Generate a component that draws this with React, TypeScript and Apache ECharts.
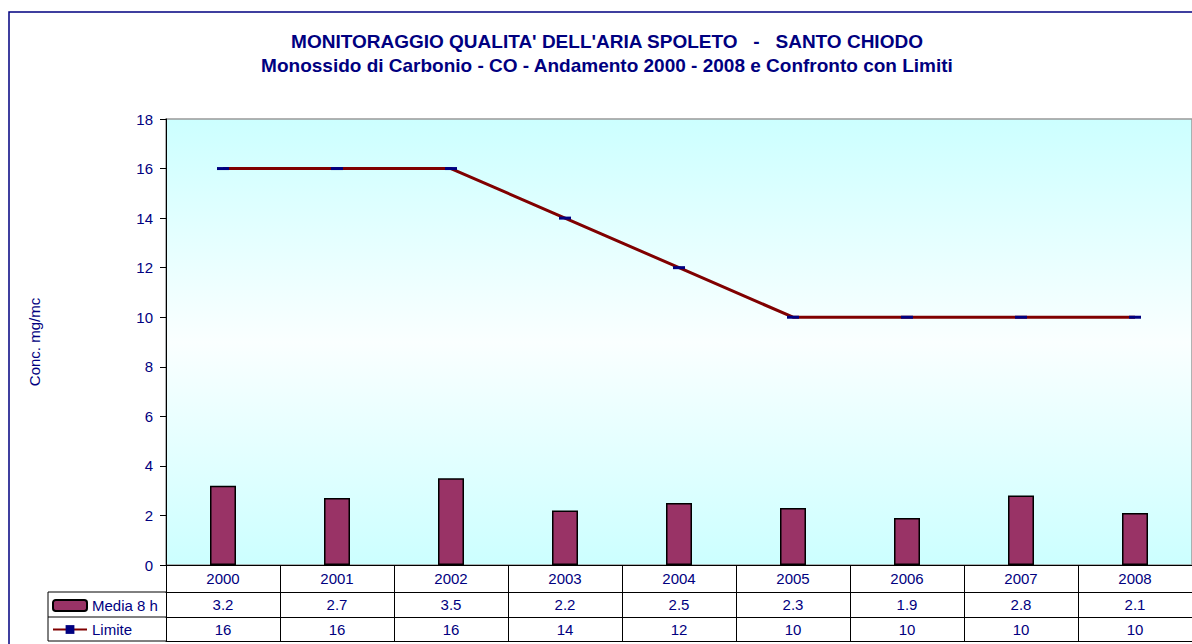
import React, { useEffect, useRef } from "react";
import * as echarts from "echarts";

const years = ["2000", "2001", "2002", "2003", "2004", "2005", "2006", "2007", "2008"];
const media8h = [3.2, 2.7, 3.5, 2.2, 2.5, 2.3, 1.9, 2.8, 2.1];
const limite = [16, 16, 16, 14, 12, 10, 10, 10, 10];
const yTicks = { min: 0, max: 18, interval: 2 };
const title1 = "MONITORAGGIO QUALITA' DELL'ARIA SPOLETO   -   SANTO CHIODO";
const title2 = "Monossido di Carbonio - CO - Andamento 2000 - 2008 e Confronto con Limiti";

const NAVY = "#000080";
const FONT = "'Liberation Sans', Arial, sans-serif";

export default function App() {
  const ref = useRef<HTMLDivElement>(null);
  useEffect(() => {
    if (!ref.current) return;
    const chart = echarts.init(ref.current, null, { renderer: "svg" });
    const tableAxis = (offset: number, labels: (string | number)[] | null, margin: number) => ({
      type: "category",
      data: years,
      position: "bottom",
      offset,
      boundaryGap: true,
      axisLine: { show: true, lineStyle: { color: "#000", width: 1 } },
      axisTick: { show: false },
      axisLabel: {
        show: !!labels,
        interval: 0,
        margin,
        color: NAVY,
        fontSize: 15,
        fontFamily: FONT,
        formatter: (_v: string, i: number) => (labels ? String(labels[i]) : ""),
      },
    });
    chart.setOption({
      animation: false,
      textStyle: { fontFamily: FONT },
      grid: {
        left: 166,
        top: 119,
        right: 0,
        bottom: 644 - 565,
        show: true,
        borderColor: "#999",
        borderWidth: 1.5,
        backgroundColor: new echarts.graphic.LinearGradient(0, 0, 0, 1, [
          { offset: 0, color: "#CCFFFF" },
          { offset: 0.5, color: "#FAFFFF" },
          { offset: 1, color: "#CCFFFF" },
        ]),
      },
      legend: {
        orient: "vertical",
        left: 52,
        top: 598,
        itemWidth: 34,
        itemHeight: 11,
        itemGap: 9,
        padding: 0,
        textStyle: { color: NAVY, fontSize: 15, fontFamily: FONT },
        data: ["Media 8 h", "Limite"],
      },
      graphic: [
        {
          type: "rect",
          shape: { x: 9, y: 12, width: 1220, height: 660 },
          style: { fill: "none", stroke: NAVY, lineWidth: 1.5 },
          z: 100,
          silent: true,
        },
        {
          type: "text",
          x: 607,
          y: 41,
          style: {
            text: title1,
            fill: NAVY,
            font: `bold 19px ${FONT}`,
            align: "center",
            verticalAlign: "middle",
          },
        },
        {
          type: "text",
          x: 607,
          y: 65,
          style: {
            text: title2,
            fill: NAVY,
            font: `bold 19px ${FONT}`,
            align: "center",
            verticalAlign: "middle",
          },
        },
        // legend column borders of the data table
        {
          type: "polyline",
          shape: { points: [[166, 592], [48, 592], [48, 641], [166, 641]] },
          style: { stroke: "#000", lineWidth: 1, fill: "none" },
        },
        {
          type: "line",
          shape: { x1: 48, y1: 617, x2: 166, y2: 617 },
          style: { stroke: "#000", lineWidth: 1 },
        },
      ],
      xAxis: [
        {
          type: "category",
          data: years,
          position: "bottom",
          boundaryGap: true,
          axisLine: { show: true, lineStyle: { color: "#000", width: 1 } },
          axisTick: { show: true, interval: 0, length: 76, lineStyle: { color: "#000", width: 1 } },
          axisLabel: { interval: 0, margin: 6, color: NAVY, fontSize: 15, fontFamily: FONT },
        },
        tableAxis(27, media8h, 5),
        tableAxis(52, limite, 5),
        tableAxis(76, null, 5),
      ],
      yAxis: {
        type: "value",
        min: yTicks.min,
        max: yTicks.max,
        interval: yTicks.interval,
        name: "Conc. mg/mc",
        nameLocation: "middle",
        nameRotate: 90,
        nameGap: 124,
        nameTextStyle: { color: NAVY, fontSize: 15, fontFamily: FONT },
        axisLine: { show: true, lineStyle: { color: "#000", width: 1 } },
        axisTick: { show: true, length: 6, lineStyle: { color: "#000" } },
        axisLabel: { margin: 13, color: NAVY, fontSize: 15, fontFamily: FONT },
        splitLine: { show: false },
      },
      series: [
        {
          name: "Media 8 h",
          type: "bar",
          xAxisIndex: 0,
          data: media8h,
          barWidth: 26,
          itemStyle: { color: "#993366", borderColor: "#000", borderWidth: 1.5 },
        },
        {
          name: "Limite",
          type: "line",
          xAxisIndex: 0,
          data: limite,
          symbol: "rect",
          symbolSize: [12, 3],
          lineStyle: { color: "#800000", width: 3 },
          itemStyle: { color: NAVY },
          z: 3,
        },
      ],
    });
    return () => chart.dispose();
  }, []);
  return (
    <div
      ref={ref}
      style={{ position: "fixed", left: 0, top: 0, width: 1192, height: 644, background: "#fff" }}
    />
  );
}
